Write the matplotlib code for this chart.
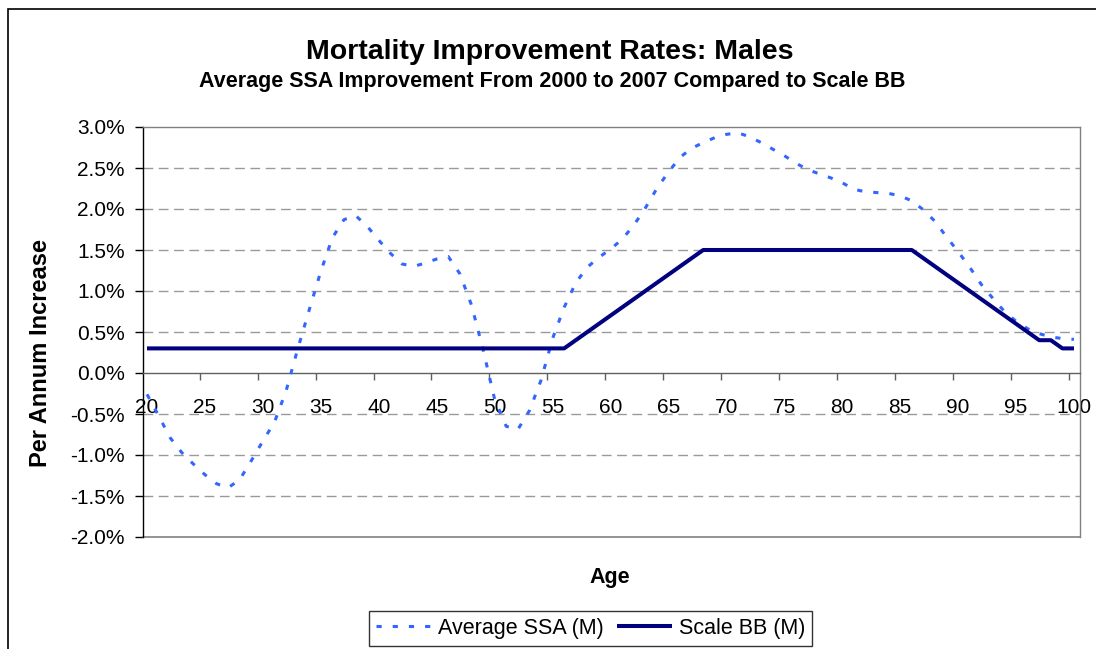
import matplotlib
matplotlib.use("Agg")
import matplotlib.pyplot as plt
from matplotlib.patches import Rectangle
from matplotlib.ticker import FixedLocator, FuncFormatter

plt.rcParams['font.family'] = ['Liberation Sans', 'DejaVu Sans']

ages = list(range(20, 101))
avg_ssa = [-0.26, -0.52, -0.79, -0.97, -1.11, -1.24, -1.35, -1.40, -1.30, -1.07,
           -0.83, -0.60, -0.22, 0.29, 0.77, 1.24, 1.65, 1.87, 1.92, 1.79,
           1.62, 1.46, 1.33, 1.30, 1.34, 1.39, 1.42, 1.21, 0.83, 0.29,
           -0.32, -0.65, -0.69, -0.46, -0.09, 0.42, 0.80, 1.10, 1.29, 1.41,
           1.51, 1.63, 1.80, 2.01, 2.25, 2.45, 2.63, 2.74, 2.81, 2.87,
           2.91, 2.93, 2.88, 2.81, 2.73, 2.65, 2.56, 2.48, 2.43, 2.38,
           2.32, 2.24, 2.21, 2.20, 2.19, 2.16, 2.10, 1.99, 1.85, 1.66,
           1.48, 1.29, 1.08, 0.91, 0.75, 0.63, 0.54, 0.48, 0.44, 0.42,
           0.41]
scale_bb = [0.3] * 37 + [0.4, 0.5, 0.6, 0.7, 0.8, 0.9, 1.0, 1.1, 1.2, 1.3, 1.4] + \
           [1.5] * 19 + [1.4, 1.3, 1.2, 1.1, 1.0, 0.9, 0.8, 0.7, 0.6, 0.5, 0.4, 0.4, 0.3, 0.3]

x_tick_labels = list(range(20, 101, 5))
y_ticks = [-2.0, -1.5, -1.0, -0.5, 0.0, 0.5, 1.0, 1.5, 2.0, 2.5, 3.0]

title = "Mortality Improvement Rates: Males"
subtitle = "Average SSA Improvement From 2000 to 2007 Compared to Scale BB"

W, H = 1096, 649
fig = plt.figure(figsize=(W / 100, H / 100), dpi=100)
ax = fig.add_axes([143 / W, 1 - 537 / H, (1080 - 143) / W, (537 - 127) / H])

# outer chart border (left and top visible)
fig.add_artist(Rectangle((8 / W, -0.2), 1.2, 1.2 - 9 / H,
                         transform=fig.transFigure, fill=False,
                         edgecolor='black', linewidth=1.2))

ax.plot(ages, avg_ssa, color='#3366FF', linewidth=2.2,
        linestyle=(0, (1.7, 3.6)), label='Average SSA (M)', zorder=3)
ax.plot(ages, scale_bb, color='#000080', linewidth=2.9,
        solid_capstyle='butt', label='Scale BB (M)', zorder=4)

ax.set_xlim(19.655, 100.518)
ax.set_ylim(-2.0, 3.0)

for v in y_ticks:
    if v not in (-2.0, 0.0, 3.0):
        ax.axhline(v, color='#9a9a9a', linewidth=1.0, linestyle=(0, (7, 4)), zorder=1)
ax.axhline(-2.0, color='#808080', linewidth=1.2, zorder=2, clip_on=False)

ax.spines['bottom'].set_position(('data', 0))
ax.spines['bottom'].set_color('#606060')
ax.spines['top'].set_color('#808080')
ax.spines['right'].set_color('#808080')
ax.spines['left'].set_color('black')
for s in ax.spines.values():
    s.set_linewidth(1.0)

ax.set_yticks(y_ticks)
ax.yaxis.set_major_formatter(FuncFormatter(lambda v, p: f"{v:.1f}%"))
ax.tick_params(axis='y', direction='out', length=6, width=1, color='black',
               labelsize=15, pad=7)

ax.set_xticks(x_tick_labels)
ax.set_xticklabels([str(a) for a in x_tick_labels])
ax.xaxis.set_minor_locator(FixedLocator([a - 0.45 for a in x_tick_labels[1:]]))
ax.tick_params(axis='x', which='major', length=0, labelsize=15, pad=18)
ax.tick_params(axis='x', which='minor', direction='out', length=5, width=1,
               color='#606060')

fig.text(550 / W, 1 - 59 / H, title, ha='center', va='baseline',
         fontsize=20.5, fontweight='bold')
fig.text(552 / W, 1 - 87.5 / H, subtitle, ha='center', va='baseline',
         fontsize=15.5, fontweight='bold')
fig.text(610 / W, 1 - 583.5 / H, "Age", ha='center', va='baseline',
         fontsize=15.5, fontweight='bold')
fig.text(41 / W, 1 - 353 / H, "Per Annum Increase", ha='center', va='center',
         rotation=90, fontsize=17, fontweight='bold')

leg = fig.legend(loc='center', bbox_to_anchor=(590.5 / W, 1 - 628.5 / H), ncol=2,
                 frameon=True, fancybox=False, fontsize=15.5, handlelength=2.55,
                 handletextpad=0.32, columnspacing=0.64, borderpad=0.32,
                 borderaxespad=0)
leg.get_frame().set_edgecolor('black')
leg.get_frame().set_linewidth(1.0)

fig.savefig("out.png", dpi=100)
